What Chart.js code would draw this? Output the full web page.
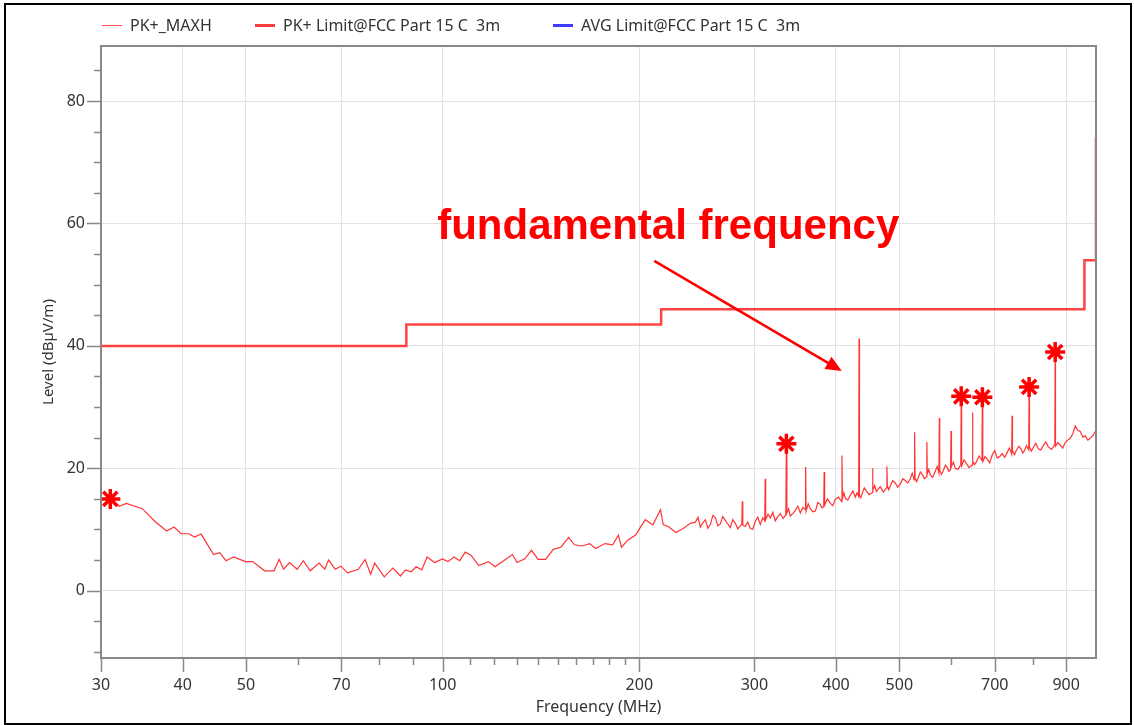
<!DOCTYPE html>
<html>
<head>
<meta charset="utf-8">
<script src="https://cdn.jsdelivr.net/npm/chart.js@4.4.0/dist/chart.umd.min.js"></script>
<style>
html,body{margin:0;padding:0;background:#fff;}
#frame{position:absolute;left:4px;top:3px;width:1128px;height:722px;border:2px solid #000;box-sizing:border-box;}
#wrap{position:absolute;left:0;top:0;width:1134px;height:725px;}
#legend{position:absolute;left:0;top:14px;font:16px "Noto Sans";color:#333;}
.item{position:absolute;white-space:pre;display:flex;align-items:center;height:22px;}
.item i{display:inline-block;width:20px;margin-right:8px;}
</style>
</head>
<body>
<div id="frame"></div>
<div id="wrap"><canvas id="myChart"></canvas></div>
<div id="legend">
  <div class="item" style="left:102px"><i style="border-top:1px solid #ff5050"></i>PK+_MAXH</div>
  <div class="item" style="left:255px"><i style="border-top:3px solid #ff3c3c"></i>PK+ Limit@FCC Part 15 C  3m</div>
  <div class="item" style="left:553px"><i style="border-top:3px solid #3c3cff"></i>AVG Limit@FCC Part 15 C  3m</div>
</div>
<script>
// PK+_MAXH trace (MHz / dBuV/m)
var freqs = [30.0,31.0,32.0,32.8,34.7,36.3,37.8,38.8,39.8,40.9,41.7,42.7,44.6,45.6,46.6,47.9,49.9,51.2,53.4,55.2,
  56.2,57.1,58.3,59.9,61.2,62.7,64.7,66.0,66.9,68.5,69.9,71.5,74.3,76.1,77.6,78.7,81.4,83.9,86.2,87.7,
  89.5,91.1,92.9,94.7,97.2,99.9,101.9,104.1,106.2,108.3,110.6,113.6,117.5,120.3,124.0,127.9,130.0,133.6,136.8,140.0,
  143.8,147.7,151.7,155.9,159.1,163.5,167.9,171.4,177.2,182.1,185.8,187.8,192.2,197.4,204.2,209.8,215.5,217.6,221.5,227.5,
  233.7,239.4,
  243.7,246.0,248.0,250.2,252.4,254.6,256.9,259.2,261.5,263.8,266.1,268.4,270.8,273.2,275.6,278.0,280.5,283.0,285.5,287.0,
  287.5,288.0,290.5,293.1,295.7,298.3,300.9,303.6,306.3,309.0,311.2,311.7,312.2,314.8,317.4,320.1,322.9,325.8,328.7,332.0,
  335.2,335.8,336.4,338.5,340.5,343.5,346.6,349.7,352.8,355.8,358.8,359.4,360.0,362.7,365.4,368.7,372.0,375.2,378.4,380.8,
  383.1,383.7,384.3,388.1,392.0,395.5,399.0,403.4,407.9,408.5,409.1,411.2,413.4,417.0,420.6,424.4,428.2,430.8,433.3,433.9,
  434.5,436.6,438.8,441.9,445.0,449.6,454.3,455.0,455.7,458.4,461.1,464.3,467.5,472.7,477.9,478.6,479.3,481.8,484.3,488.5,
  492.8,497.2,501.6,506.1,510.6,515.1,519.7,523.3,526.9,527.7,528.5,531.5,534.6,538.4,542.2,546.2,550.2,551.0,551.8,554.7,
  557.6,562.5,567.5,571.2,574.9,575.7,576.5,580.1,583.8,588.0,592.2,595.6,599.1,600.0,600.9,605.0,609.0,615.0,621.0,621.9,
  622.8,628.0,633.1,639.5,646.0,647.0,648.0,651.8,655.7,662.3,669.0,670.0,671.0,676.3,681.6,687.6,693.7,699.8,705.9,712.1,
  718.4,724.8,731.3,737.1,743.0,744.0,745.0,750.0,755.0,761.7,768.4,772.4,776.4,782.7,789.0,790.0,791.0,796.3,801.6,808.7,
  815.9,823.1,830.4,837.8,845.3,855.1,865.0,866.0,867.0,874.3,881.7,889.4,897.2,905.1,913.1,921.2,929.4,937.7,946.1,954.5,
  962.9,971.5,980.2,990.1,1000];
var levels = [14.9,15.0,13.8,14.25,13.4,11.3,9.75,10.4,9.3,9.3,8.75,9.25,5.9,6.2,4.9,5.5,4.75,4.75,3.25,3.25,
  5.1,3.5,4.6,3.5,4.9,3.25,4.5,3.5,5.0,3.5,4.0,2.9,3.5,5.1,2.7,4.5,2.25,3.7,2.4,3.4,
  3.1,3.9,3.4,5.5,4.6,5.2,4.75,5.5,4.9,6.3,5.75,4.1,4.75,3.9,4.9,5.9,4.6,5.2,6.6,5.1,
  5.1,6.75,7.1,8.7,7.5,7.3,7.7,6.9,7.7,7.5,9.1,7.1,8.3,9.1,11.6,10.75,13.25,10.75,10.5,9.5,
  10.2,11.0,
  11.2,12.0,10.4,11.1,11.6,10.2,10.8,12.3,11.9,10.6,10.9,12.1,11.5,10.9,10.3,11.6,11.0,10.1,10.6,10.8,
  14.6,10.7,10.5,11.2,10.2,10.0,11.3,12.0,10.8,11.9,11.4,18.3,11.6,12.5,11.9,12.8,11.4,12.1,12.6,11.8,
  12.4,24.0,12.7,13.4,12.2,12.6,13.1,13.8,12.7,13.6,13.3,20.2,13.0,14.2,13.4,12.9,13.0,14.4,14.1,13.5,
  13.8,19.4,14.0,15.0,14.3,13.9,14.9,15.3,14.6,22.1,15.0,16.0,15.1,14.8,15.6,16.3,15.3,16.0,15.4,41.2,
  15.6,15.2,15.9,16.8,16.3,15.7,16.0,20.0,16.4,17.2,16.2,16.6,17.0,16.1,16.8,20.3,17.2,16.5,17.1,18.0,
  17.6,16.9,17.4,18.3,18.0,17.6,18.3,19.2,18.1,25.9,18.4,17.8,18.5,19.4,19.0,18.3,18.6,24.3,19.1,19.8,
  18.9,18.5,19.5,20.3,19.2,28.2,19.7,19.0,19.6,20.5,20.1,19.5,19.8,26.1,20.3,21.0,20.0,19.8,20.6,31.75,
  20.4,21.4,20.8,20.1,20.5,29.1,21.2,20.6,21.0,22.0,21.3,31.6,21.1,21.9,21.5,20.9,22.2,22.9,21.7,21.9,
  22.4,21.8,22.6,23.3,22.3,28.6,22.9,22.2,22.9,23.6,23.1,22.5,22.8,23.7,23.0,33.3,23.5,22.8,23.4,24.1,
  23.2,23.0,23.7,24.3,23.5,23.1,23.9,39.0,23.6,24.2,23.8,23.3,24.2,24.6,24.9,25.6,26.9,26.2,26.0,25.1,
  25.3,24.6,24.9,25.4,26.2];

// PK+ limit steps
var limitFreqs = [30, 88, 216, 960, 1000];
var limitLevels = [40, 43.5, 46, 54, 74];

// marked peaks
var markerFreqs = [31.0, 335.8, 621.9, 670.0, 790.0, 866.0];
var markerLevels = [15.0, 24.0, 31.75, 31.6, 33.3, 39.0];

var xTicks = [30, 40, 50, 70, 100, 200, 300, 400, 500, 700, 900];
var xMinorTicks = [60, 80, 90, 110, 120, 130, 140, 150, 160, 170, 180, 190, 600, 800];
var yTicks = [0, 20, 40, 60, 80];
var yMinorTicks = [-10, -5, 5, 10, 15, 25, 30, 35, 45, 50, 55, 65, 70, 75, 85];

function pts(xs, ys){ return xs.map(function(x, i){ return {x: x, y: ys[i]}; }); }

//draws the tick marks, the frame and the red note
var extras = {
  id: 'extras',
  afterDraw: function(chart){
    var ctx = chart.ctx, a = chart.chartArea, xs = chart.scales.x, ys = chart.scales.y;
    ctx.save();
    ctx.strokeStyle = '#888';
    ctx.lineWidth = 1.5;
    ctx.beginPath();
    yTicks.forEach(function(v){ var p = Math.round(ys.getPixelForValue(v)) + 0.5; ctx.moveTo(a.left - 14, p); ctx.lineTo(a.left, p); });
    yMinorTicks.forEach(function(v){ var p = Math.round(ys.getPixelForValue(v)) + 0.5; ctx.moveTo(a.left - 7, p); ctx.lineTo(a.left, p); });
    xTicks.forEach(function(v){ var p = Math.round(xs.getPixelForValue(v)) + 0.5; ctx.moveTo(p, a.bottom); ctx.lineTo(p, a.bottom + 14); });
    xMinorTicks.forEach(function(v){ var p = Math.round(xs.getPixelForValue(v)) + 0.5; ctx.moveTo(p, a.bottom); ctx.lineTo(p, a.bottom + 7); });
    ctx.stroke();
    ctx.lineWidth = 2;
    ctx.strokeRect(a.left, a.top, a.right - a.left, a.bottom - a.top);

    ctx.fillStyle = '#ff0000';
    ctx.font = 'bold 42px "Liberation Sans"';
    ctx.textBaseline = 'alphabetic';
    ctx.fillText('fundamental frequency', xs.getPixelForValue(98.1), ys.getPixelForValue(57.4));

    var x0 = xs.getPixelForValue(210.8), y0 = ys.getPixelForValue(53.9);
    var x1 = xs.getPixelForValue(408.2), y1 = ys.getPixelForValue(35.9);
    var ang = Math.atan2(y1 - y0, x1 - x0);
    ctx.strokeStyle = '#ff0000';
    ctx.lineWidth = 2.5;
    ctx.beginPath();
    ctx.moveTo(x0, y0);
    ctx.lineTo(x1 - 12 * Math.cos(ang), y1 - 12 * Math.sin(ang));
    ctx.stroke();
    ctx.beginPath();
    ctx.moveTo(x1, y1);
    ctx.lineTo(x1 - 16 * Math.cos(ang) + 7 * Math.sin(ang), y1 - 16 * Math.sin(ang) - 7 * Math.cos(ang));
    ctx.lineTo(x1 - 16 * Math.cos(ang) - 7 * Math.sin(ang), y1 - 16 * Math.sin(ang) + 7 * Math.cos(ang));
    ctx.closePath();
    ctx.fill();
    ctx.restore();
  }
};

new Chart("myChart", {
  type: "scatter",
  data: {
    datasets: [{
      label: "PK+_MAXH",
      data: pts(freqs, levels),
      showLine: true,
      borderColor: "rgba(255,0,0,0.8)",
      borderWidth: 1.2,
      pointRadius: 0
    }, {
      label: "PK+ Limit@FCC Part 15 C  3m",
      data: pts(limitFreqs, limitLevels),
      showLine: true,
      stepped: "before",
      borderColor: "rgba(255,20,20,0.8)",
      borderWidth: 2.5,
      pointRadius: 0
    }, {
      label: "AVG Limit@FCC Part 15 C  3m",
      data: [],
      showLine: true,
      borderColor: "#3c3cff",
      borderWidth: 2.5,
      pointRadius: 0
    }, {
      label: "markers",
      data: pts(markerFreqs, markerLevels),
      showLine: false,
      pointStyle: "star",
      pointRadius: 10,
      pointBorderWidth: 3.5,
      pointBorderColor: "#ff0000",
      pointBackgroundColor: "#ff0000"
    }]
  },
  options: {
    responsive: true,
    maintainAspectRatio: false,
    animation: false,
    layout: { padding: { left: 0, top: 46, right: 38, bottom: 0 } },
    plugins: { legend: { display: false }, tooltip: { enabled: false } },
    scales: {
      x: {
        type: "logarithmic",
        min: 30,
        max: 1000,
        afterBuildTicks: function(s){ s.ticks = xTicks.map(function(v){ return {value: v}; }); },
        afterFit: function(s){ s.height = 67; },
        ticks: {
          autoSkip: false, maxRotation: 0, padding: 18, color: "#333",
          font: { family: "Noto Sans", size: 16 },
          callback: function(v){ return String(v); }
        },
        grid: { color: "#e2e2e2", drawTicks: false },
        border: { color: "#888", width: 2 },
        title: { display: true, text: "Frequency (MHz)", color: "#333",
          font: { family: "Noto Sans", size: 16 }, padding: { top: 0, bottom: 8 } }
      },
      y: {
        min: -11,
        max: 89,
        afterBuildTicks: function(s){ s.ticks = yTicks.map(function(v){ return {value: v}; }); },
        afterFit: function(s){ s.width = 101; },
        ticks: { padding: 16, color: "#333", font: { family: "Noto Sans", size: 16 } },
        grid: { color: "#e2e2e2", drawTicks: false },
        border: { color: "#888", width: 2 },
        title: { display: true, text: "Level (dBµV/m)", color: "#333",
          font: { family: "Noto Sans", size: 15 }, padding: { top: 40, bottom: 0 } }
      }
    }
  },
  plugins: [extras]
});
</script>
</body>
</html>
